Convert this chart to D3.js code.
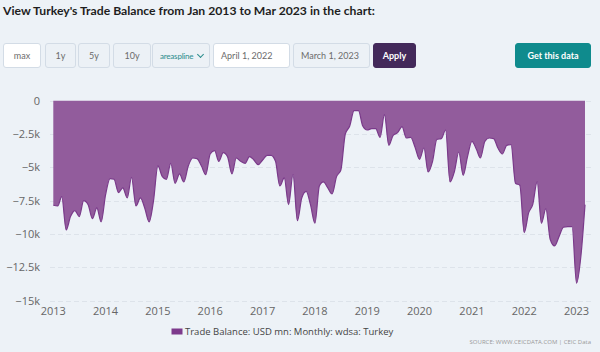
<!DOCTYPE html>
<html>
<head>
<meta charset="utf-8">
<script src="https://cdn.jsdelivr.net/npm/d3@7"></script>
<style>
  body { margin: 0; background: #edf2f7; font-family: "Open Sans", sans-serif; }
  #wrap { position: relative; width: 600px; height: 352px; overflow: hidden; }
  .title { position: absolute; left: 3px; top: 3px; font-family: Lato, sans-serif; font-size: 12.2px; font-weight: 700; color: #1e1e1e; white-space: nowrap; }
  .btn { position: absolute; top: 43px; height: 25px; box-sizing: border-box; border: 1px solid #d3dce6; border-radius: 3px;
         font-family: Lato, sans-serif; font-size: 9px; color: #6b6b6b; display: flex; align-items: center; justify-content: center; background: #ecf1f6; }
  .chev { position: absolute; right: 6px; top: 8px; width: 4px; height: 4px; border-right: 1.5px solid #2b8c8c; border-bottom: 1.5px solid #2b8c8c; transform: rotate(45deg); }
  svg { position: absolute; left: 0; top: 0; }
</style>
</head>
<body>
<div id="wrap"></div>
<script>
// Turkey trade balance, USD mn, monthly, Jan 2013 .. Mar 2023
var startMonth = new Date(2013, 0, 1);
var endMonth = new Date(2023, 2, 1);
var bal2013 = [-7850, -7900, -7200, -9700, -8700, -8250, -8700, -7500, -7800, -8850, -8050, -9100];
var bal2014 = [-7050, -5850, -5900, -6900, -6550, -7300, -5750, -7900, -7300, -8050, -9100, -7550];
var bal2015 = [-4900, -5700, -5900, -4700, -6200, -5500, -6100, -4900, -4300, -4350, -4900, -5550];
var bal2016 = [-4000, -3750, -4550, -3900, -4200, -5500, -4300, -4550, -4700, -4200, -4450, -4800];
var bal2017 = [-4450, -4100, -4100, -4550, -6400, -5800, -7800, -5550, -9000, -7300, -6800, -7800];
var bal2018 = [-9200, -6400, -6100, -6550, -7000, -5700, -5200, -2500, -1900, -750, -750, -1900];
var bal2019 = [-2200, -2100, -2100, -2750, -1050, -3350, -2600, -2400, -1950, -2800, -2750, -3500];
var bal2020 = [-4400, -3550, -5350, -4550, -2900, -2850, -2200, -6100, -5300, -3850, -5600, -4200];
var bal2021 = [-3050, -3650, -4300, -3050, -2800, -2850, -3550, -4000, -3350, -3300, -6200, -6350];
var bal2022 = [-9900, -8400, -7800, -6100, -9200, -8100, -10400, -10900, -10200, -9500, -9450, -9450];
var bal2023 = [-13700, -11600, -7800];

var yearTicks = [2013, 2014, 2015, 2016, 2017, 2018, 2019, 2020, 2021, 2022, 2023];
var yTicks = [0, -2500, -5000, -7500, -10000, -12500, -15000];
var seriesName = "Trade Balance: USD mn: Monthly: wdsa: Turkey";

var balance = [].concat(bal2013, bal2014, bal2015, bal2016, bal2017, bal2018, bal2019, bal2020, bal2021, bal2022, bal2023);
var months = d3.timeMonth.range(startMonth, d3.timeMonth.offset(endMonth, 1));
var data = months.map(function(m, i) { return { date: m, value: balance[i] }; });

var wrap = d3.select("#wrap");

wrap.append("div").attr("class", "title")
    .text("View Turkey's Trade Balance from Jan 2013 to Mar 2023 in the chart:");

// control bar
var controls = [
  { label: "max", x: 3, w: 38, bg: "#ffffff" },
  { label: "1y", x: 45, w: 31 },
  { label: "5y", x: 78, w: 32 },
  { label: "10y", x: 113, w: 38 },
  { label: "areaspline", x: 152, w: 58, color: "#2b8c8c", select: true },
  { label: "April 1, 2022", x: 213, w: 77, bg: "#ffffff", left: true },
  { label: "March 1, 2023", x: 293, w: 77, left: true },
  { label: "Apply", x: 373, w: 43, bg: "#43295a", color: "#ffffff", bold: true, border: "#43295a" },
  { label: "Get this data", x: 515, w: 76, bg: "#0f8b8d", color: "#ffffff", bold: true, border: "#0f8b8d" }
];
controls.forEach(function(c) {
  var b = wrap.append("div").attr("class", "btn")
      .style("left", c.x + "px")
      .style("width", c.w + "px");
  if (c.bg) b.style("background", c.bg);
  if (c.color) b.style("color", c.color);
  if (c.border) b.style("border-color", c.border);
  if (c.bold) b.style("font-weight", 700);
  if (c.left) b.style("justify-content", "flex-start").style("padding-left", "7px");
  if (c.select) {
    b.style("justify-content", "flex-start").style("padding-left", "7px");
    b.append("span").style("font-size", "8px").style("letter-spacing", "-0.2px").text(c.label);
    b.append("span").attr("class", "chev");
  } else {
    b.text(c.label);
  }
});

var width = 600, height = 352;
var svg = wrap.append("svg").attr("width", width).attr("height", height);

var xScale = d3.scaleTime()
    .domain([startMonth, endMonth])
    .range([53.3, 585]);

var yScale = d3.scaleLinear()
    .domain([-15000, 0])
    .range([300.5, 100.7]);

// gridlines
svg.selectAll(".grid")
    .data(yTicks)
  .enter().append("line")
    .attr("class", "grid")
    .attr("x1", 50).attr("x2", 592)
    .attr("y1", function(d) { return Math.round(yScale(d)) + 0.5; })
    .attr("y2", function(d) { return Math.round(yScale(d)) + 0.5; })
    .attr("stroke", "#dde3ea")
    .attr("stroke-dasharray", "5,3");

// y labels
svg.selectAll(".ylab")
    .data(yTicks)
  .enter().append("text")
    .attr("class", "ylab")
    .attr("x", 40)
    .attr("y", function(d) { return yScale(d) + 4; })
    .attr("text-anchor", "end")
    .attr("font-size", 11)
    .attr("fill", "#666")
    .text(function(d) {
      if (d === 0) return "0";
      return "\u2212" + (Math.abs(d) / 1000) + "k";
    });

// x labels
svg.selectAll(".xlab")
    .data(yearTicks)
  .enter().append("text")
    .attr("class", "xlab")
    .attr("x", function(d) { return xScale(new Date(d, 0, 1)); })
    .attr("y", 315)
    .attr("text-anchor", "middle")
    .attr("font-size", 11)
    .attr("fill", "#666")
    .text(function(d) { return d; });

// area
var area = d3.area()
    .x(function(d) { return xScale(d.date); })
    .y0(yScale(0))
    .y1(function(d) { return yScale(d.value); })
    .curve(d3.curveMonotoneX);

var line = d3.line()
    .x(function(d) { return xScale(d.date); })
    .y(function(d) { return yScale(d.value); })
    .curve(d3.curveMonotoneX);

svg.append("path")
    .datum(data)
    .attr("d", area)
    .attr("fill", "#925c9c");

svg.append("path")
    .datum(data)
    .attr("d", line)
    .attr("fill", "none")
    .attr("stroke", "#7a3a8a")
    .attr("stroke-width", 1.2);

// legend
svg.append("rect")
    .attr("x", 171.5).attr("y", 328.5)
    .attr("width", 11).attr("height", 6)
    .attr("fill", "#7d3a8c");

svg.append("text")
    .attr("x", 185)
    .attr("y", 335)
    .attr("font-size", 9.5)
    .attr("fill", "#444")
    .text(seriesName);

svg.append("text")
    .attr("x", 591)
    .attr("y", 344)
    .attr("text-anchor", "end")
    .attr("font-size", 6)
    .attr("fill", "#999")
    .text("SOURCE: WWW.CEICDATA.COM | CEIC Data");
</script>
</body>
</html>
